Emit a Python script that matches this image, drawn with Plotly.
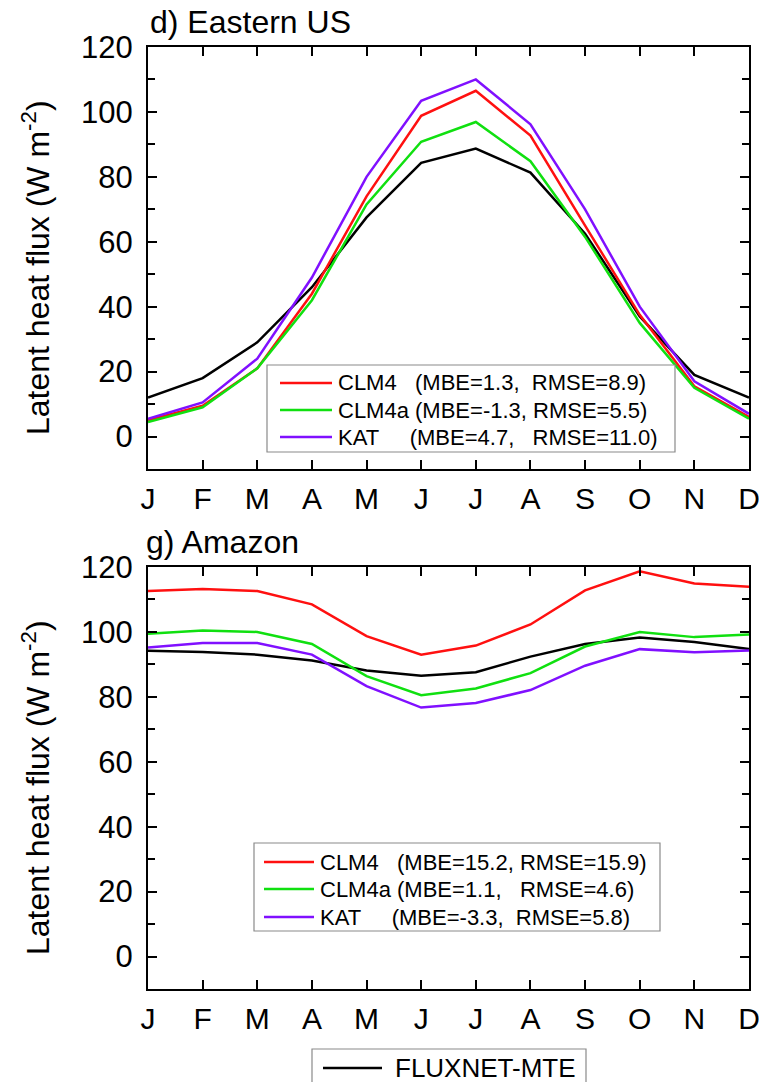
import plotly.graph_objects as go

months = ["J", "F", "M", "A", "M", "J", "J", "A", "S", "O", "N", "D"]

# Eastern US (panel d)
east_fluxnet = [12, 18, 29, 46, 67.5, 84.3, 88.7, 81.3, 62.5, 37, 19, 12]
east_clm4 = [5, 9.5, 21, 44, 74, 98.8, 106.5, 92.7, 65, 37.5, 15.5, 6]
east_clm4a = [4.5, 9, 21, 42, 71.5, 90.8, 96.9, 84.8, 61.5, 35, 15, 5.5]
east_kat = [5.5, 10.5, 24, 49, 80, 103.4, 110, 96.2, 70, 40, 17, 7]

# Amazon (panel g)
amz_fluxnet = [94.2, 93.8, 93.0, 91.2, 88.1, 86.5, 87.6, 92.4, 96.3, 98.3, 96.9, 94.7]
amz_clm4 = [112.6, 113.2, 112.6, 108.5, 98.7, 93.0, 95.8, 102.3, 112.8, 118.7, 114.9, 113.9]
amz_clm4a = [99.4, 100.4, 100.0, 96.3, 86.4, 80.5, 82.6, 87.3, 95.5, 100.0, 98.4, 99.2]
amz_kat = [95.2, 96.6, 96.6, 93.0, 83.3, 76.7, 78.1, 82.1, 89.6, 94.7, 93.7, 94.3]

east_labels = ["CLM4   (MBE=1.3,  RMSE=8.9)",
               "CLM4a (MBE=-1.3, RMSE=5.5)",
               "KAT     (MBE=4.7,   RMSE=11.0)"]
amz_labels = ["CLM4   (MBE=15.2, RMSE=15.9)",
              "CLM4a (MBE=1.1,   RMSE=4.6)",
              "KAT     (MBE=-3.3,  RMSE=5.8)"]
obs_label = "FLUXNET-MTE"
panel_titles = ["d) Eastern US", "g) Amazon"]
y_title = "Latent heat flux (W m<sup>-2</sup>)"

x = list(range(len(months)))
FONT = "Arial, Liberation Sans, sans-serif"
RED, GREEN, PURPLE = "#FF1010", "#10E010", "#8010FF"
LW = 2.5
W, H = 759, 1082
ML, MR = 148, 10


def nb(s):
    return s.replace(" ", "\u00a0")


def px(xp):
    return (xp - ML) / (W - ML - MR)


def py(yp):
    return 1 - yp / H


fig = go.Figure()

# top panel
fig.add_trace(go.Scatter(x=x, y=east_fluxnet, mode="lines", name=obs_label,
                         line=dict(color="black", width=LW), xaxis="x", yaxis="y"))
for ys, c, lab in zip([east_clm4, east_clm4a, east_kat], [RED, GREEN, PURPLE], east_labels):
    fig.add_trace(go.Scatter(x=x, y=ys, mode="lines", name=lab,
                             line=dict(color=c, width=LW), xaxis="x", yaxis="y"))

# bottom panel
fig.add_trace(go.Scatter(x=x, y=amz_fluxnet, mode="lines", name=obs_label,
                         line=dict(color="black", width=LW), xaxis="x2", yaxis="y2"))
for ys, c, lab in zip([amz_clm4, amz_clm4a, amz_kat], [RED, GREEN, PURPLE], amz_labels):
    fig.add_trace(go.Scatter(x=x, y=ys, mode="lines", name=lab,
                             line=dict(color=c, width=LW), xaxis="x2", yaxis="y2"))

xcommon = dict(range=[0, len(months) - 1], tickmode="array", tickvals=x, ticktext=months,
               ticks="inside", ticklen=9, tickwidth=1.5, tickcolor="black",
               showline=True, linewidth=2, linecolor="black", mirror="allticks",
               showgrid=False, zeroline=False, automargin=False, ticklabeloverflow="allow",
               tickfont=dict(family=FONT, size=30, color="black"), ticklabelstandoff=2)
ycommon = dict(range=[-10, 120], tickmode="linear", tick0=0, dtick=20,
               ticks="inside", ticklen=9, tickwidth=1.5, tickcolor="black",
               minor=dict(dtick=10, ticks="inside", ticklen=7, tickwidth=1.5, tickcolor="black"),
               showline=True, linewidth=2, linecolor="black", mirror="allticks",
               showgrid=False, zeroline=False, automargin=False, ticklabeloverflow="allow",
               tickfont=dict(family=FONT, size=31, color="black"), ticklabelstandoff=7)

fig.update_layout(
    width=W, height=H,
    margin=dict(l=ML, r=MR, t=0, b=0),
    paper_bgcolor="white", plot_bgcolor="white",
    showlegend=False,
    xaxis=dict(xcommon, anchor="y", domain=[0, 1]),
    yaxis=dict(ycommon, anchor="x", domain=[py(469), py(47)]),
    xaxis2=dict(xcommon, anchor="y2", domain=[0, 1]),
    yaxis2=dict(ycommon, anchor="x2", domain=[py(989), py(567)]),
)

# y-axis titles
for yc in (268, 788):
    fig.add_annotation(text=y_title, xref="paper", yref="paper", x=px(36), y=py(yc),
                       xanchor="center", yanchor="middle", textangle=-90, showarrow=False,
                       font=dict(family=FONT, size=32, color="black"))

# panel titles
fig.add_annotation(text=panel_titles[0], xref="paper", yref="paper", x=px(148), y=py(47),
                   xanchor="left", yanchor="bottom", yshift=5, showarrow=False,
                   font=dict(family=FONT, size=32, color="black"))
fig.add_annotation(text=panel_titles[1], xref="paper", yref="paper", x=px(144), y=py(567),
                   xanchor="left", yanchor="bottom", yshift=5, showarrow=False,
                   font=dict(family=FONT, size=32, color="black"))


# legend boxes (drawn as layout decorations)
def add_legend(box, line_x, text_x, rows, labels, colors, size):
    x0, y0, x1, y1 = box
    fig.add_shape(type="rect", xref="paper", yref="paper",
                  x0=px(x0), x1=px(x1), y0=py(y1), y1=py(y0),
                  line=dict(color="#8a8a8a", width=1.2), fillcolor="white", layer="above")
    for r, lab, c in zip(rows, labels, colors):
        fig.add_shape(type="line", xref="paper", yref="paper",
                      x0=px(line_x[0]), x1=px(line_x[1]), y0=py(r), y1=py(r),
                      line=dict(color=c, width=2.3), layer="above")
        fig.add_annotation(text=nb(lab), xref="paper", yref="paper", x=px(text_x), y=py(r),
                           xanchor="left", yanchor="middle", showarrow=False,
                           font=dict(family=FONT, size=size, color="black"))


add_legend((267, 365, 675, 452), (280, 332), 336, [383, 410, 437],
           east_labels, [RED, GREEN, PURPLE], 22)
add_legend((254, 843, 660, 931), (264, 314), 318, [862, 889, 917],
           amz_labels, [RED, GREEN, PURPLE], 22)
add_legend((312, 1049, 586, 1100), (323, 382), 393, [1068],
           [obs_label], ["black"], 26)

fig.write_html("out.html", config={"displayModeBar": False},
               post_script="document.body.style.margin='0';")
